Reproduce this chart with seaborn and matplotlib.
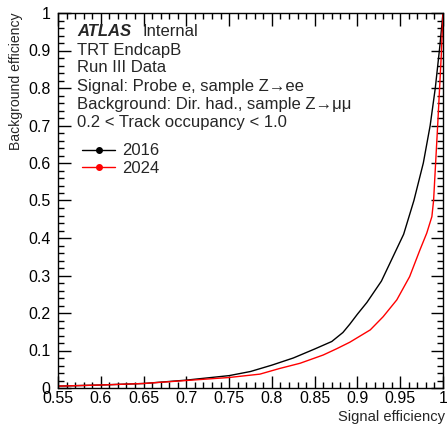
import numpy as np
import pandas as pd
import matplotlib
matplotlib.use("Agg")
import matplotlib.pyplot as plt
import seaborn as sns
from matplotlib.lines import Line2D
from matplotlib.ticker import MultipleLocator, FuncFormatter

# ---- data ----
sig_2016 = [0.55, 0.60, 0.65, 0.70, 0.75, 0.775, 0.80, 0.825, 0.85, 0.87, 0.883, 0.891,
            0.90, 0.911, 0.928, 0.938, 0.954, 0.966, 0.977, 0.985, 0.991, 0.996, 1.0]
bkg_2016 = [0.005, 0.008, 0.012, 0.021, 0.033, 0.044, 0.061, 0.080, 0.104, 0.124, 0.148, 0.170,
            0.197, 0.228, 0.285, 0.333, 0.41, 0.50, 0.60, 0.70, 0.80, 0.905, 1.0]
sig_2024 = [0.55, 0.60, 0.65, 0.70, 0.75, 0.786, 0.809, 0.833, 0.860, 0.876, 0.891, 0.915,
            0.930, 0.946, 0.961, 0.973, 0.981, 0.987, 0.989, 0.994, 0.998, 1.0]
bkg_2024 = [0.005, 0.008, 0.012, 0.020, 0.028, 0.037, 0.052, 0.066, 0.088, 0.105, 0.122, 0.155,
            0.190, 0.235, 0.297, 0.368, 0.413, 0.457, 0.50, 0.71, 0.888, 1.0]
years = ["2016", "2024"]
colors = ["black", "red"]

df = pd.concat([
    pd.DataFrame({"sig": sig_2016, "bkg": bkg_2016, "year": years[0]}),
    pd.DataFrame({"sig": sig_2024, "bkg": bkg_2024, "year": years[1]}),
], ignore_index=True)

sns.set_style("ticks")
plt.rcParams["font.family"] = ["Liberation Sans", "DejaVu Sans"]

fig = plt.figure(figsize=(4.47, 4.28), dpi=100)
ax = fig.add_axes([58 / 447, 1 - 388 / 428, 385 / 447, 375 / 428])

sns.lineplot(data=df, x="sig", y="bkg", hue="year", palette=dict(zip(years, colors)),
             sort=False, estimator=None, linewidth=1.0, legend=False, ax=ax)

ax.set_xlim(0.55, 1.0)
ax.set_ylim(0, 1.0)
ax.xaxis.set_major_locator(MultipleLocator(0.05))
ax.xaxis.set_minor_locator(MultipleLocator(0.01))
ax.yaxis.set_major_locator(MultipleLocator(0.1))
ax.yaxis.set_minor_locator(MultipleLocator(0.02))
fmt = FuncFormatter(lambda v, p: "%g" % round(v, 3))
ax.xaxis.set_major_formatter(fmt)
ax.yaxis.set_major_formatter(fmt)
ax.tick_params(which="both", direction="in", top=True, right=True, labelsize=11.5,
               width=1.0, color="black", labelcolor="black")
ax.tick_params(which="major", length=9)
ax.tick_params(axis="x", which="major", pad=2.5)
ax.tick_params(axis="y", which="major", pad=5.5)
ax.tick_params(which="minor", length=4.5)
for s in ax.spines.values():
    s.set_linewidth(1.0)
    s.set_color("black")

ax.set_xlabel("Signal efficiency", fontsize=10.6, loc="right")
ax.xaxis.set_label_coords((445 - 58) / 385, (388 - 410) / 375)
ax.set_ylabel("Background efficiency", fontsize=10.1, loc="top")
ax.yaxis.set_label_coords((23 - 58) / 385, (388 - 12) / 375)

# text block
x0 = (77 - 58) / 385
def ty(py):
    return (388 - py) / 375
ax.text(x0, ty(32), "ATLAS", fontsize=12, fontweight="bold", fontstyle="italic",
        transform=ax.transAxes, va="center", ha="left")
ax.text((142 - 58) / 385, ty(32), "Internal", fontsize=12, transform=ax.transAxes,
        va="center", ha="left")
lines = ["TRT EndcapB", "Run III Data", "Signal: Probe e, sample Z\u2192ee",
         "Background: Dir. had., sample Z\u2192\u03bc\u03bc", "0.2 < Track occupancy < 1.0"]
for i, t in enumerate(lines):
    ax.text(x0, ty(50 + 18 * i), t, fontsize=12, transform=ax.transAxes,
            va="center", ha="left")

handles = [Line2D([0], [0], color=c, lw=1.0, marker="o", markersize=4) for c in colors]
leg = ax.legend(handles, years, loc="upper left", bbox_to_anchor=(0.045, 0.67),
                frameon=False, fontsize=12, handlelength=2.0, handletextpad=0.4,
                labelspacing=0.15, borderaxespad=0)

fig.savefig("out.png", dpi=100)
